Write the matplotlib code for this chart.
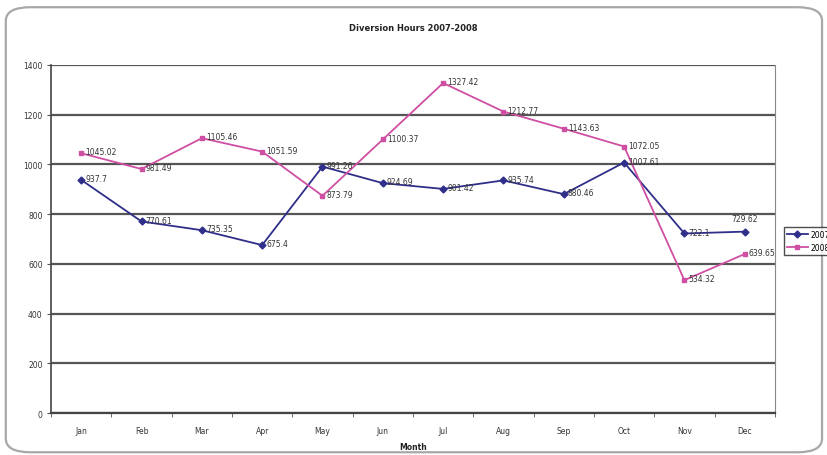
import matplotlib
matplotlib.use("Agg")
import matplotlib.pyplot as plt
from matplotlib.patches import FancyBboxPatch

months = ["Jan", "Feb", "Mar", "Apr", "May", "Jun", "Jul", "Aug", "Sep", "Oct", "Nov", "Dec"]
hours_2007 = [937.7, 770.61, 735.35, 675.4, 991.26, 924.69, 901.42, 935.74, 880.46, 1007.61, 722.1, 729.62]
hours_2008 = [1045.02, 981.49, 1105.46, 1051.59, 873.79, 1100.37, 1327.42, 1212.77, 1143.63, 1072.05, 534.32, 639.65]
series_names = ["2007", "2008"]
y_ticks = [0, 200, 400, 600, 800, 1000, 1200, 1400]

c2007 = "#2f2f8a"
c2008 = "#cf4fa2"

fig = plt.figure(figsize=(8.27, 4.56), dpi=100)
fig.patch.set_facecolor("white")

# rounded outer frame
frame = FancyBboxPatch((0.007, 0.006), 0.987, 0.976,
                       boxstyle="round,pad=0,rounding_size=0.03",
                       transform=fig.transFigure, facecolor="none",
                       edgecolor="#a8a8a8", linewidth=1.6, zorder=-1)
fig.patches.append(frame)

ax = fig.add_axes([0.0617, 0.0921, 0.8753, 0.7632])
ax.set_facecolor("white")
x = list(range(len(months)))

ax.set_xlim(-0.5, len(months) - 0.5)
ax.set_ylim(0, 1400)
ax.set_yticks(y_ticks)
ax.set_yticklabels([str(v) for v in y_ticks], fontsize=5.5, color="#333333")
ax.set_xticks(x)
ax.set_xticklabels(months, fontsize=5.5, color="#333333")
ax.set_xticks([i - 0.5 for i in range(len(months) + 1)], minor=True)
ax.tick_params(axis="x", which="major", length=0, pad=9)
ax.tick_params(axis="x", which="minor", length=3, color="#555555")
ax.tick_params(axis="y", length=3, color="#555555", pad=3)

ax.yaxis.grid(True, color="#555555", linewidth=1.6)
ax.set_axisbelow(True)
ax.spines["top"].set_visible(False)
ax.spines["left"].set_color("#444444")
ax.spines["left"].set_linewidth(1.2)
ax.spines["bottom"].set_color("#444444")
ax.spines["bottom"].set_linewidth(1.6)
ax.spines["right"].set_color("#888888")
ax.spines["right"].set_linewidth(0.8)

l1, = ax.plot(x, hours_2007, color=c2007, marker="D", markersize=3.5,
              linewidth=1.3, label=series_names[0], zorder=3)
l2, = ax.plot(x, hours_2008, color=c2008, marker="s", markersize=3.2,
              linewidth=1.3, label=series_names[1], zorder=3)

lab_kw = dict(fontsize=5.5, color="#333333", zorder=4)
for i, v in enumerate(hours_2007):
    txt = f"{v:g}"
    if i == len(months) - 1:
        ax.annotate(txt, (i, v), xytext=(0, 6), textcoords="offset points",
                    ha="center", va="bottom", **lab_kw)
    else:
        ax.annotate(txt, (i, v), xytext=(3, 1), textcoords="offset points",
                    ha="left", va="center", **lab_kw)
for i, v in enumerate(hours_2008):
    txt = f"{v:g}"
    ax.annotate(txt, (i, v), xytext=(3, 1), textcoords="offset points",
                ha="left", va="center", **lab_kw)

leg = fig.legend(handles=[l1, l2], labels=series_names, loc="center left",
                 bbox_to_anchor=(0.943, 0.47), fontsize=5.5, frameon=True,
                 fancybox=False, edgecolor="#222222", handlelength=2.8,
                 borderpad=0.4, labelspacing=0.5, handletextpad=0.3)
leg.get_frame().set_linewidth(1.0)

fig.text(0.5, 0.938, "Diversion Hours 2007-2008", ha="center", va="center",
         fontsize=6, fontweight="bold", color="#222222")
fig.text(0.5, 0.008, "Month", ha="center", va="bottom",
         fontsize=5.5, fontweight="bold", color="#222222")

fig.savefig("out.png", dpi=100)
